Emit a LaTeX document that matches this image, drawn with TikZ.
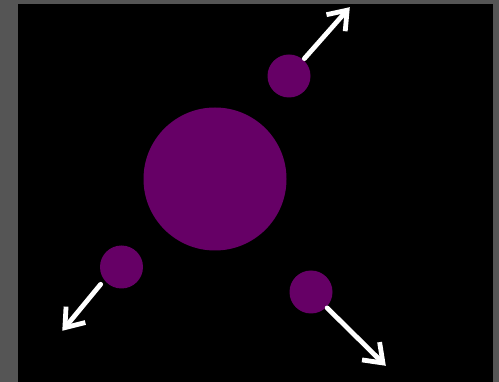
\documentclass[tikz,border=0pt]{standalone}
\usepackage{tikz}
\usetikzlibrary{arrows.meta}
\definecolor{framegrey}{HTML}{555555}
\definecolor{nucleus}{HTML}{660066}
\tikzset{
  bigball/.style={
    circle, fill=nucleus, minimum size=143pt, inner sep=0pt
  },
  smallball/.style={
    circle, fill=nucleus, minimum size=43pt, inner sep=0pt
  },
  flyarrow/.style={
    -{Straight Barb[length=17pt, width=25pt]}, line width=4.8pt,
    color=white, line cap=round, line join=round
  },
}

\begin{document}
\begin{tikzpicture}[x=1pt, y=-1pt]

  % frame and black field
  \fill[framegrey] (0,0) rectangle (499,382);
  \fill[black] (18,4) rectangle (493,382);
  \useasboundingbox (0,0) rectangle (499,382);

  \node[bigball]   (core) at (215,179) {};
  \node[smallball] (p1)   at (289,76)  {};
  \node[smallball] (p2)   at (121.5,267) {};
  \node[smallball] (p3)   at (311,292) {};

  \coordinate (t1) at (349.8,7.2);
  \coordinate (t2) at (62.3,330.8);
  \coordinate (t3) at (385.8,365.8);

  \draw[flyarrow, shorten <=1.5pt] (p1) -- (t1);
  \draw[flyarrow, shorten <=5.5pt] (p2.217) -- (t2);
  \draw[flyarrow, shorten <=1pt]   (p3) -- (t3);
\end{tikzpicture}
\end{document}
